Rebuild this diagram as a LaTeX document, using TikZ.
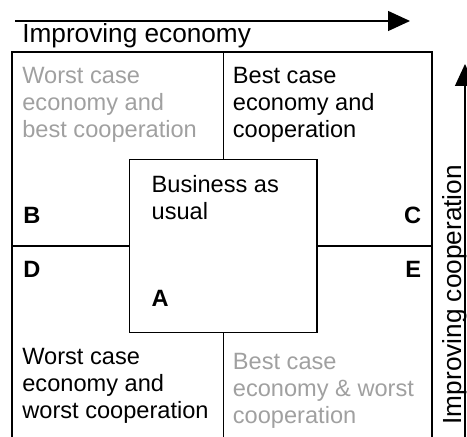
\documentclass[tikz,border=0pt]{standalone}
\usepackage{fontspec}
\setmainfont{Liberation Sans}
\usetikzlibrary{arrows.meta}
\definecolor{fadedtext}{RGB}{160,160,160}
\tikzset{
  quad/.style={anchor=base west, align=left, inner sep=0pt, font=\fontsize{11.8}{13.5}\selectfont},
  corner/.style={inner sep=0pt, font=\fontsize{11.8}{13.5}\selectfont\bfseries},
  axis/.style={-{Triangle[length=11pt,width=10pt]}, line width=0.65pt},
  axislabel/.style={inner sep=0pt, anchor=base west, font=\fontsize{13.1}{15}\selectfont},
}
\begin{document}
\begin{tikzpicture}[x=0.5pt, y=-0.5pt, line width=0.65pt]
    \clip (0,0) rectangle (467,437);
    % outer frame, runs off the bottom edge
    \coordinate (ftl) at (12,52);
    \coordinate (ftr) at (432,52);
    \coordinate (fbl) at (12,445);
    \coordinate (fbr) at (432,445);
    \draw (fbl) -- (ftl) -- (ftr) -- (fbr);

    % business as usual box in the middle
    \node[draw, minimum width=93.65pt, minimum height=86.7pt, inner sep=0pt] (usual) at (223.35,246) {};
    \draw (usual.north) -- (usual.north |- ftl);
    \draw (usual.south) -- (usual.south |- fbl);
    \draw (usual.west) -- (usual.west -| ftl);
    \draw (usual.east) -- (usual.east -| ftr);

    % base of a multi-line node is its last line
    \node[quad, text=fadedtext] (bw) at (21.7,137.3) {Worst case\\economy and\\best cooperation};
    \node[quad] (bb) at (232.3,137.3) {Best case\\economy and\\cooperation};
    \node[quad] (bau) at (151,219.7) {Business as\\usual};
    \node[quad] (ww) at (21.7,419) {Worst case\\economy and\\worst cooperation};
    \node[quad, text=fadedtext] (wb) at (232.3,424) {Best case\\economy \& worst\\cooperation};

    \node[corner, anchor=base west] (B) at (22.7,223.3) {B};
    \node[corner, anchor=base east] (C) at (421.7,223.3) {C};
    \node[corner, anchor=base west] (D) at (22.7,278) {D};
    \node[corner, anchor=base east] (E) at (421.7,278) {E};
    \node[corner, anchor=base west] (A) at (151,307) {A};

    % axes
    \coordinate (ecostart) at (15,21);
    \coordinate (ecoend) at (410,21);
    \draw[axis] (ecostart) -- (ecoend);
    \node[axislabel] (eco) at (21.7,42.3) {Improving economy};

    \coordinate (coopstart) at (465,445);
    \coordinate (coopend) at (465,64);
    \draw[axis] (coopstart) -- (coopend);
    \node[axislabel, rotate=90] (coop) at (461,425) {Improving cooperation};
\end{tikzpicture}
\end{document}
